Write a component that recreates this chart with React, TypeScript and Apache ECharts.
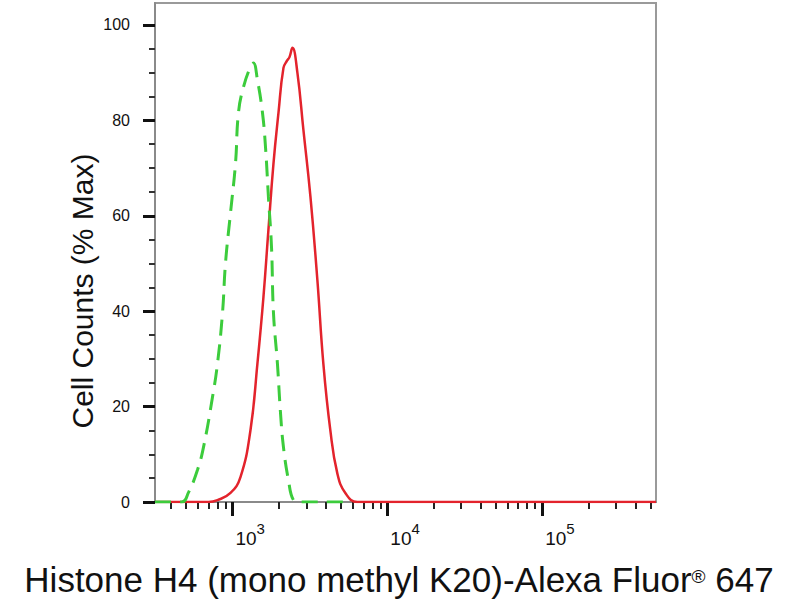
import React, { useEffect, useRef } from "react";
import * as echarts from "echarts";

const FONT = '"Liberation Sans", Arial, Helvetica, sans-serif';

// Axis ranges
const X_MIN = 316;
const X_MAX = 543000;
const Y_MIN = 0;
const Y_MAX = 104.6;
const Y_INTERVAL = 20;

// Tick values
const yTickValues = [0, 20, 40, 60, 80, 100];
const yMinorValues = [5, 10, 15, 25, 30, 35, 45, 50, 55, 65, 70, 75, 85, 90, 95];
const xMajorValues = [1000, 10000, 100000];
const xMinorValues = [
  400, 500, 600, 700, 800, 900,
  2000, 3000, 4000, 5000, 6000, 7000, 8000, 9000,
  20000, 30000, 40000, 50000, 60000, 70000, 80000, 90000,
  200000, 300000, 400000, 500000,
];

// Red (solid) histogram: fluorescence intensity vs % max
const redX = [316, 700, 800, 971, 1126, 1306, 1449, 1585, 1706, 1840, 1982, 2134, 2250, 2330, 2438, 2625, 2871, 3187, 3534, 3862, 4285, 4754, 5354, 6400, 543000];
const redY = [0, 0, 0.4, 1.9, 5.2, 15, 29, 43, 57, 71, 81.6, 91, 92.5, 93.2, 95.2, 90, 78, 64, 46.5, 29, 15, 6, 1.9, 0, 0];

// Green (dashed) histogram: isotype control
const greenX = [316, 470, 520, 594, 650, 743, 800, 862, 901, 971, 1046, 1093, 1178, 1306, 1365, 1449, 1562, 1634, 1706, 1786, 1840, 1951, 2042, 2134, 2298, 2477, 2700, 5600];
const greenY = [0, 0, 2, 6.7, 11.5, 22, 29, 39.6, 50, 60.6, 71, 81.6, 87, 91.2, 92, 88.5, 81.6, 74.4, 64, 53.5, 39.6, 29, 18.7, 11.5, 4.6, 0.4, 0, 0];

const yTitle = "Cell Counts (% Max)";
const xTitleMain = "Histone H4 (mono methyl K20)-Alexa Fluor";
const xTitleSup = "®";
const xTitleEnd = " 647";

const isMajorX = (v: number) => xMajorValues.some((m) => Math.abs(m - v) / m < 1e-6);
const isMajorY = (v: number) => yTickValues.some((m) => Math.abs(m - v) < 1e-6);

export default function App() {
  const ref = useRef<HTMLDivElement>(null);

  useEffect(() => {
    if (!ref.current) return;
    const chart = echarts.init(ref.current, null, { renderer: "svg" });

    const redData = redX.map((x, i) => [x, redY[i]]);
    const greenData = greenX.map((x, i) => [x, greenY[i]]);

    const option: any = {
      animation: false,
      backgroundColor: "#ffffff",
      textStyle: { fontFamily: FONT },
      grid: {
        left: 155,
        right: 144,
        top: 3,
        bottom: 98,
        show: true,
        borderColor: "#9a9a9a",
        borderWidth: 2,
        containLabel: false,
        outerBoundsMode: "none",
      },
      xAxis: [
        {
          type: "log",
          logBase: 10,
          min: X_MIN,
          max: X_MAX,
          position: "bottom",
          axisLine: { onZero: false, lineStyle: { color: "#8a8a8a", width: 2 } },
          axisTick: {
            customValues: xMajorValues,
            length: 14,
            inside: false,
            lineStyle: { color: "#111", width: 3 },
          },
          axisLabel: {
            show: true,
            showMinLabel: true,
            showMaxLabel: true,
            interval: 0,
            hideOverlap: false,
            align: "left",
            margin: 18,
            fontSize: 19,
            color: "#111",
            formatter: (v: number) =>
              isMajorX(v) ? `{base|10}{sup|${Math.round(Math.log10(v))}}` : "",
            rich: {
              base: {
                fontSize: 19,
                color: "#111",
                padding: [9, 0, 0, 3],
              },
              sup: {
                fontSize: 15,
                color: "#111",
                padding: [0, 0, 12, 0],
              },
            },
          },
          splitLine: { show: false },
          minorTick: { show: false },
        },
        {
          type: "log",
          logBase: 10,
          min: X_MIN,
          max: X_MAX,
          position: "bottom",
          axisLine: { show: false, onZero: false },
          axisTick: {
            customValues: xMinorValues,
            length: 7,
            inside: false,
            lineStyle: { color: "#222", width: 2 },
          },
          axisLabel: { show: false },
          splitLine: { show: false },
        },
      ],
      yAxis: [
        {
          type: "value",
          min: Y_MIN,
          max: Y_MAX,
          interval: Y_INTERVAL,
          position: "left",
          axisLine: { show: true, onZero: false, lineStyle: { color: "#8a8a8a", width: 2 } },
          axisTick: {
            customValues: yTickValues,
            length: 12,
            inside: false,
            lineStyle: { color: "#111", width: 3 },
          },
          axisLabel: {
            margin: 25,
            fontSize: 16,
            color: "#111",
            formatter: (v: number) => (isMajorY(v) ? String(v) : ""),
          },
          splitLine: { show: false },
        },
        {
          type: "value",
          min: Y_MIN,
          max: Y_MAX,
          position: "left",
          axisLine: { show: false, onZero: false },
          axisTick: {
            customValues: yMinorValues,
            length: 6,
            inside: false,
            lineStyle: { color: "#333", width: 2 },
          },
          axisLabel: { show: false },
          splitLine: { show: false },
        },
      ],
      series: [
        {
          type: "line",
          name: "Histone H4",
          xAxisIndex: 0,
          yAxisIndex: 0,
          data: redData,
          showSymbol: false,
          smooth: 0.45,
          lineStyle: { color: "#e3232c", width: 2.5 },
          z: 2,
        },
        {
          type: "line",
          name: "Isotype",
          xAxisIndex: 0,
          yAxisIndex: 0,
          data: greenData,
          showSymbol: false,
          smooth: 0.45,
          lineStyle: { color: "#3ccc3c", width: 3, type: [16, 9] },
          z: 3,
        },
      ],
      graphic: [
        {
          type: "text",
          x: 82,
          y: 291,
          rotation: Math.PI / 2,
          style: {
            text: yTitle,
            font: `30px ${FONT}`,
            fill: "#111",
            textAlign: "center",
            textVerticalAlign: "middle",
            align: "center",
            verticalAlign: "middle",
          },
        },
        {
          type: "text",
          x: 399,
          y: 579,
          style: {
            text: `{a|${xTitleMain}}{r|${xTitleSup}}{a|${xTitleEnd}}`,
            font: `35px ${FONT}`,
            fill: "#111",
            textAlign: "center",
            textVerticalAlign: "middle",
            align: "center",
            verticalAlign: "middle",
            rich: {
              a: { fontSize: 35, fontFamily: FONT, fill: "#111", lineHeight: 40 },
              r: { fontSize: 19, fontFamily: FONT, fill: "#111", lineHeight: 32, padding: [8, 0, 0, 0], verticalAlign: "top" },
            },
          },
        },
      ],
    };

    chart.setOption(option);
    return () => {
      chart.dispose();
    };
  }, []);

  return (
    <div
      ref={ref}
      style={{ position: "fixed", left: 0, top: 0, width: 800, height: 600, background: "#fff" }}
    />
  );
}
